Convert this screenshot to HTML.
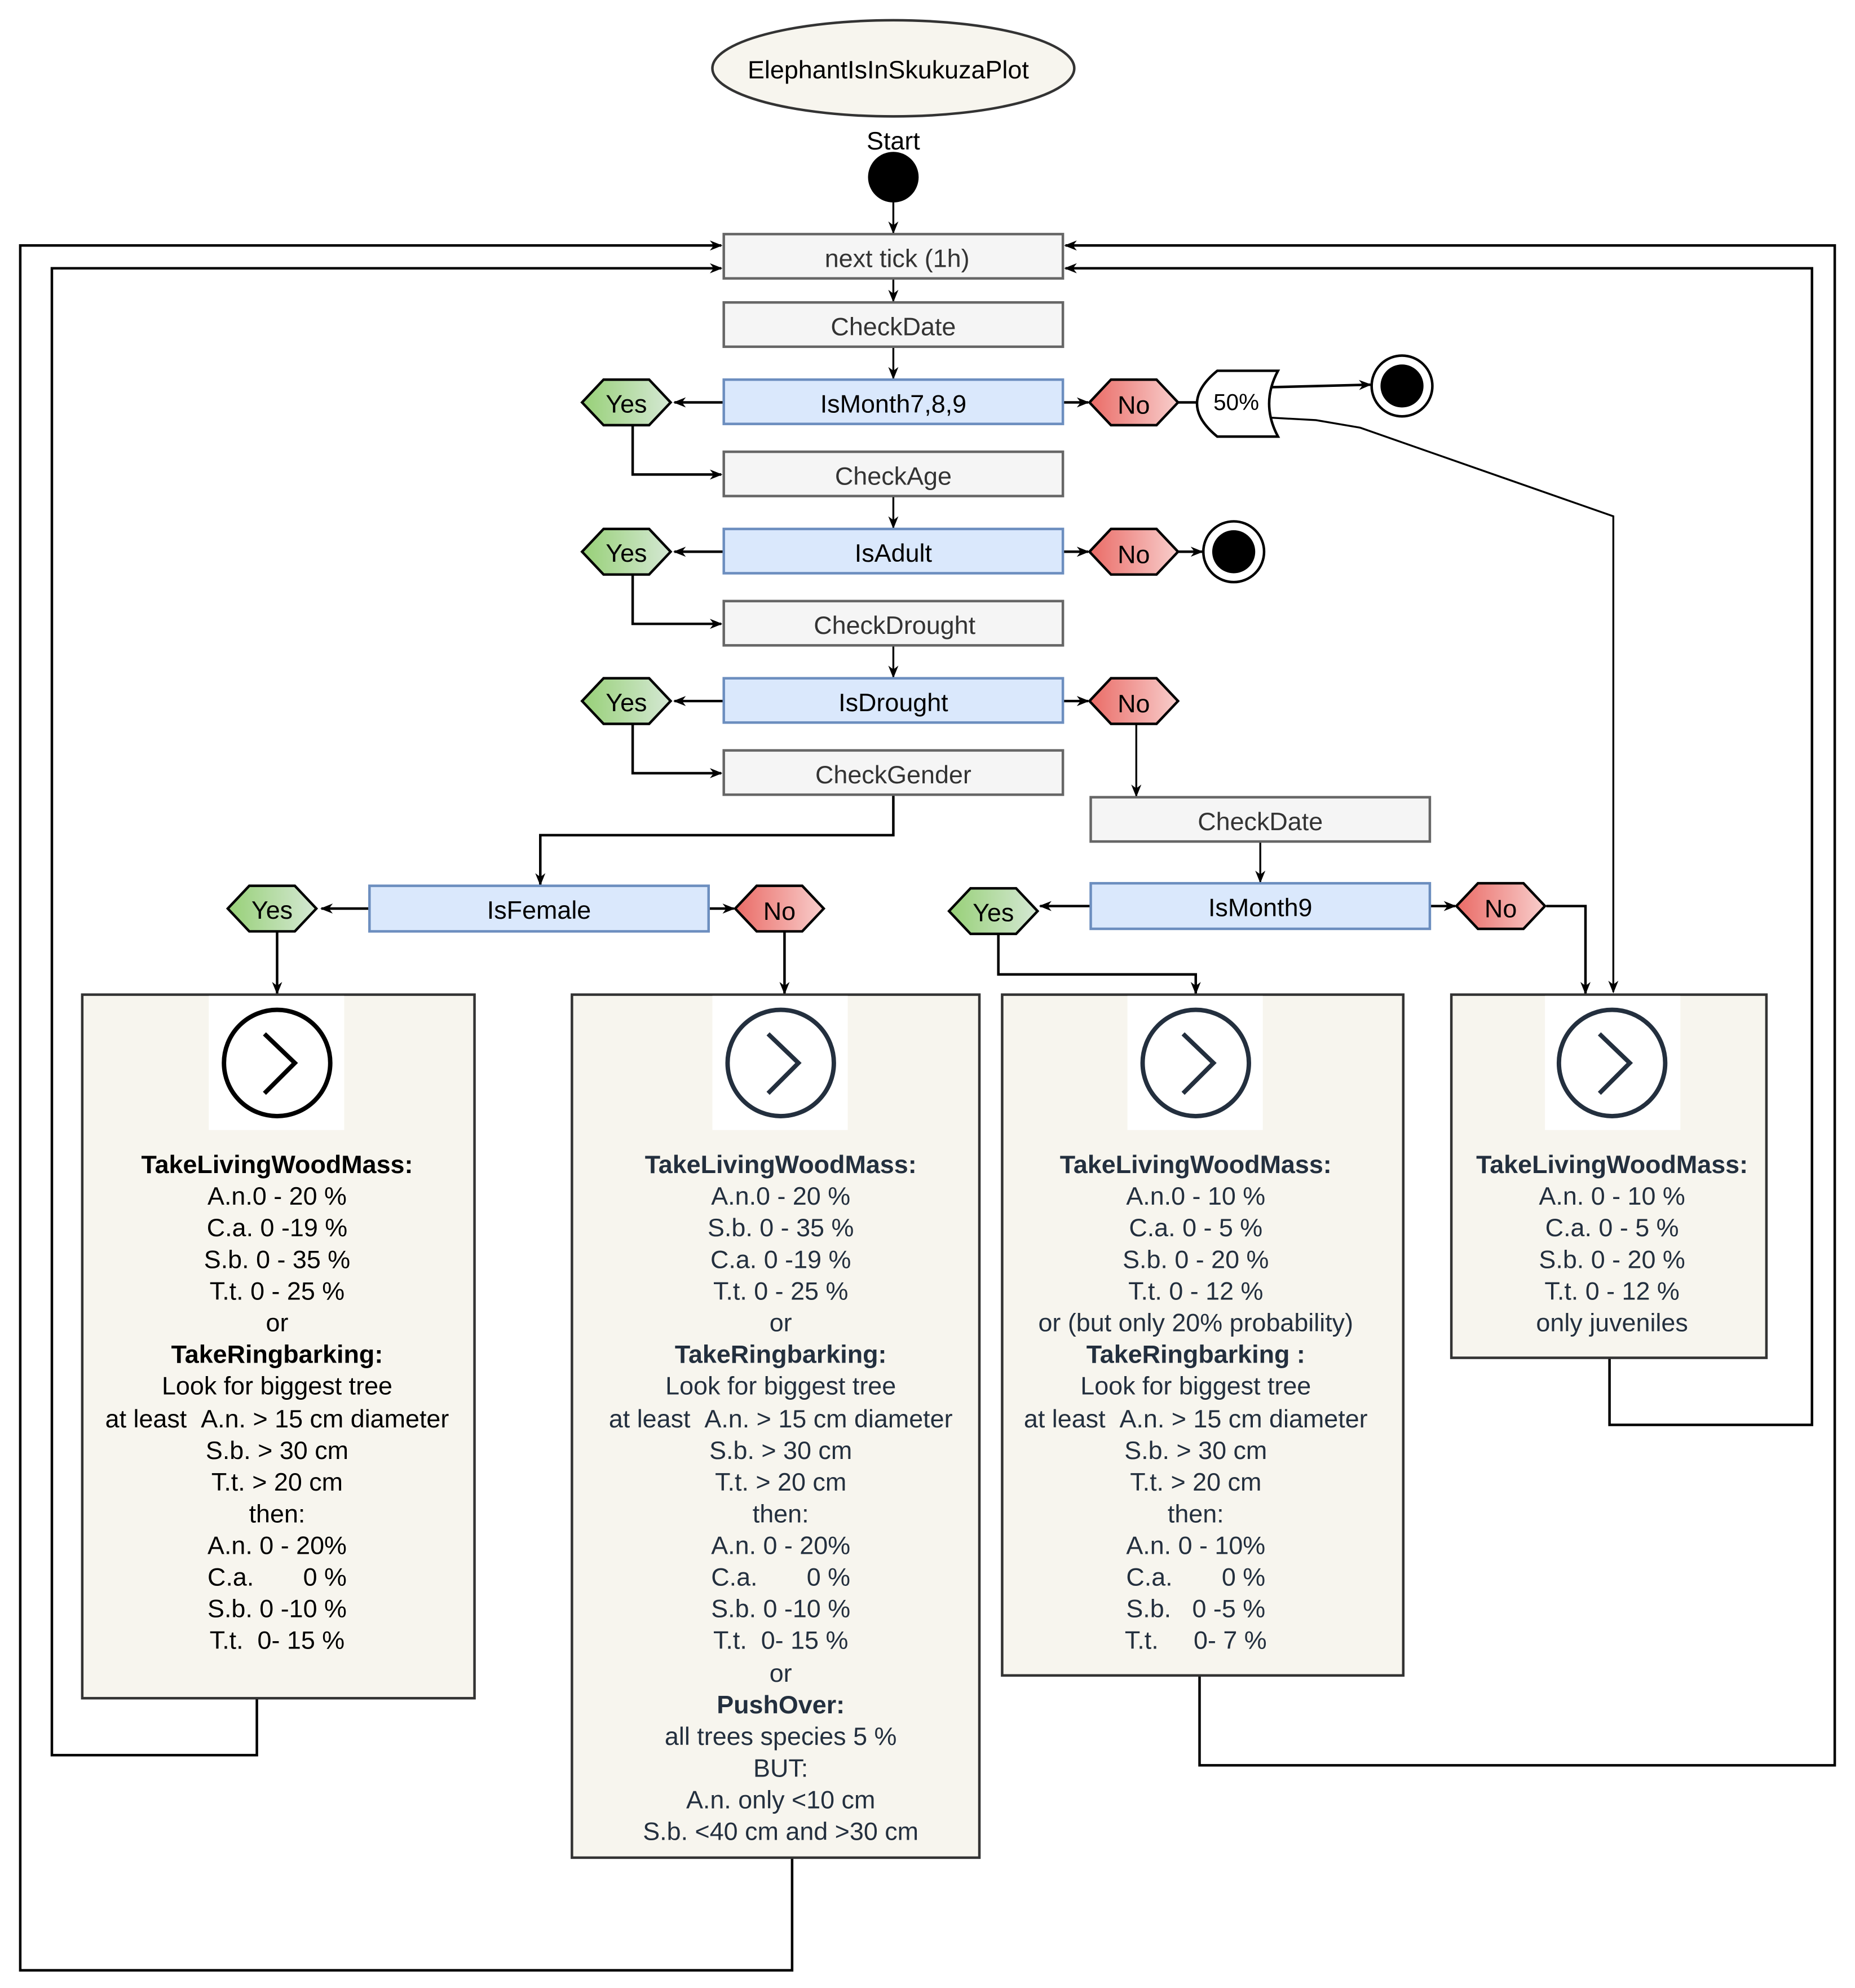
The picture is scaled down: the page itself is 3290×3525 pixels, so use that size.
<!DOCTYPE html>
<html><head><meta charset="utf-8"><style>
html,body{margin:0;padding:0;background:#fff;}
svg{display:block;}
text{font-family:"Liberation Sans",sans-serif;}
</style></head><body>
<svg width="3290" height="3525" viewBox="0 0 1466 1571" preserveAspectRatio="none" xmlns="http://www.w3.org/2000/svg">
<defs>
<marker id="a" markerWidth="10" markerHeight="10" refX="9" refY="5" orient="auto" markerUnits="userSpaceOnUse"><path d="M0,1 L10,5 L0,9 L3,5 Z" fill="#000"/></marker>
<linearGradient id="gy" x1="0" x2="1"><stop offset="0" stop-color="#97d077"/><stop offset="1" stop-color="#d5e8d4"/></linearGradient>
<linearGradient id="gn" x1="0" x2="1"><stop offset="0" stop-color="#ea6b66"/><stop offset="1" stop-color="#f8cecc"/></linearGradient>
</defs>
<g fill="none" stroke="#000" stroke-width="2">
<polyline points="626,1468 626,1557 16,1557 16,194 570,194" marker-end="url(#a)"/>
<polyline points="203,1342 203,1387 41,1387 41,212 570,212" marker-end="url(#a)"/>
<polyline points="948,1324 948,1395 1450,1395 1450,194 842,194" marker-end="url(#a)"/>
<polyline points="1272,1073 1272,1126 1432,1126 1432,212 842,212" marker-end="url(#a)"/>
<line x1="706" y1="160" x2="706" y2="184" stroke-width="1.5" marker-end="url(#a)"/>
<line x1="706" y1="220" x2="706" y2="238" stroke-width="1.5" marker-end="url(#a)"/>
<line x1="706" y1="274" x2="706" y2="299" stroke-width="1.5" marker-end="url(#a)"/>
<line x1="706" y1="392" x2="706" y2="417" stroke-width="1.5" marker-end="url(#a)"/>
<line x1="706" y1="510" x2="706" y2="535" stroke-width="1.5" marker-end="url(#a)"/>
<polyline points="572,318 533,318" marker-end="url(#a)"/>
<polyline points="572,436 533,436" marker-end="url(#a)"/>
<polyline points="572,554 533,554" marker-end="url(#a)"/>
<polyline points="840,318 860,318" marker-end="url(#a)"/>
<polyline points="840,436 860,436" marker-end="url(#a)"/>
<polyline points="840,554 860,554" marker-end="url(#a)"/>
<polyline points="500,336 500,375 570,375" marker-end="url(#a)"/>
<polyline points="500,454 500,493 570,493" marker-end="url(#a)"/>
<polyline points="500,572 500,611 570,611" marker-end="url(#a)"/>
<line x1="930" y1="318" x2="950" y2="318"/>
<polyline points="1003,306 1083,304" marker-end="url(#a)"/>
<polyline points="1003,330 1040,332 1075,338 1275,408 1275,784" stroke-width="1.5" marker-end="url(#a)"/>
<polyline points="930,436 950,436" marker-end="url(#a)"/>
<polyline points="898,572 898,629" stroke-width="1.5" marker-end="url(#a)"/>
<polyline points="706,628 706,660 427,660 427,699" marker-end="url(#a)"/>
<line x1="996" y1="665" x2="996" y2="697" stroke-width="1.5" marker-end="url(#a)"/>
<polyline points="292,718 254,718" marker-end="url(#a)"/>
<polyline points="560,718 580,718" marker-end="url(#a)"/>
<polyline points="862,716 822,716" marker-end="url(#a)"/>
<polyline points="1130,716 1150,716" marker-end="url(#a)"/>
<polyline points="219,736 219,785" marker-end="url(#a)"/>
<polyline points="620,736 620,785" marker-end="url(#a)"/>
<polyline points="789,738 789,770 945,770 945,785" marker-end="url(#a)"/>
<polyline points="1222,716 1253,716 1253,785" marker-end="url(#a)"/>
</g>
<ellipse cx="706" cy="54" rx="143" ry="38" fill="#f7f5ee" stroke="#333" stroke-width="2"/>
<text x="702" y="62" font-size="20" text-anchor="middle">ElephantIsInSkukuzaPlot</text>
<text x="706" y="118" font-size="20" text-anchor="middle">Start</text>
<circle cx="706" cy="140" r="20" fill="#000"/>
<g stroke-width="2" font-size="20" text-anchor="middle">
<rect x="572" y="185" width="268" height="35" fill="#f5f5f5" stroke="#666"/><text x="709" y="211" fill="#333" stroke="none">next tick (1h)</text>
<rect x="572" y="239" width="268" height="35" fill="#f5f5f5" stroke="#666"/><text x="706" y="265" fill="#333" stroke="none">CheckDate</text>
<rect x="572" y="300" width="268" height="35" fill="#dae8fc" stroke="#6c8ebf"/><text x="706" y="326" stroke="none">IsMonth7,8,9</text>
<rect x="572" y="357" width="268" height="35" fill="#f5f5f5" stroke="#666"/><text x="706" y="383" fill="#333" stroke="none">CheckAge</text>
<rect x="572" y="418" width="268" height="35" fill="#dae8fc" stroke="#6c8ebf"/><text x="706" y="444" stroke="none">IsAdult</text>
<rect x="572" y="475" width="268" height="35" fill="#f5f5f5" stroke="#666"/><text x="707" y="501" fill="#333" stroke="none">CheckDrought</text>
<rect x="572" y="536" width="268" height="35" fill="#dae8fc" stroke="#6c8ebf"/><text x="706" y="562" stroke="none">IsDrought</text>
<rect x="572" y="593" width="268" height="35" fill="#f5f5f5" stroke="#666"/><text x="706" y="619" fill="#333" stroke="none">CheckGender</text>
<rect x="862" y="630" width="268" height="35" fill="#f5f5f5" stroke="#666"/><text x="996" y="656" fill="#333" stroke="none">CheckDate</text>
<rect x="862" y="698" width="268" height="36" fill="#dae8fc" stroke="#6c8ebf"/><text x="996" y="724" stroke="none">IsMonth9</text>
<rect x="292" y="700" width="268" height="36" fill="#dae8fc" stroke="#6c8ebf"/><text x="426" y="726" stroke="none">IsFemale</text>
</g>
<g stroke="#000" stroke-width="2" font-size="20" text-anchor="middle">
<polygon points="460,318 477,300 513,300 530,318 513,336 477,336" fill="url(#gy)"/><text x="495" y="326" stroke="none">Yes</text>
<polygon points="460,436 477,418 513,418 530,436 513,454 477,454" fill="url(#gy)"/><text x="495" y="444" stroke="none">Yes</text>
<polygon points="460,554 477,536 513,536 530,554 513,572 477,572" fill="url(#gy)"/><text x="495" y="562" stroke="none">Yes</text>
<polygon points="180,718 197,700 233,700 250,718 233,736 197,736" fill="url(#gy)"/><text x="215" y="726" stroke="none">Yes</text>
<polygon points="750,720 767,702 803,702 820,720 803,738 767,738" fill="url(#gy)"/><text x="785" y="728" stroke="none">Yes</text>
<polygon points="861,318 878,300 914,300 931,318 914,336 878,336" fill="url(#gn)"/><text x="896" y="327" stroke="none">No</text>
<polygon points="861,436 878,418 914,418 931,436 914,454 878,454" fill="url(#gn)"/><text x="896" y="445" stroke="none">No</text>
<polygon points="861,554 878,536 914,536 931,554 914,572 878,572" fill="url(#gn)"/><text x="896" y="563" stroke="none">No</text>
<polygon points="581,718 598,700 634,700 651,718 634,736 598,736" fill="url(#gn)"/><text x="616" y="727" stroke="none">No</text>
<polygon points="1151,716 1168,698 1204,698 1221,716 1204,734 1168,734" fill="url(#gn)"/><text x="1186" y="725" stroke="none">No</text>
</g>
<path d="M962,293 L1010,293 Q996,319 1010,345 L962,345 Q930,319 962,293 Z" fill="#fff" stroke="#000" stroke-width="2"/>
<text x="977" y="324" font-size="18" text-anchor="middle">50%</text>
<circle cx="1108" cy="305" r="24" fill="#fff" stroke="#000" stroke-width="2"/><circle cx="1108" cy="305" r="17" fill="#000"/>
<circle cx="975" cy="436" r="24" fill="#fff" stroke="#000" stroke-width="2"/><circle cx="975" cy="436" r="17" fill="#000"/>
<g stroke="#333" stroke-width="2" fill="#f7f5ee">
<rect x="65" y="786" width="310" height="556"/>
<rect x="452" y="786" width="322" height="682"/>
<rect x="792" y="786" width="317" height="538"/>
<rect x="1147" y="786" width="249" height="287"/>
</g>
<g fill="#fff"><rect x="165" y="787" width="107" height="106"/><rect x="563" y="787" width="107" height="106"/><rect x="891" y="787" width="107" height="106"/><rect x="1221" y="787" width="107" height="106"/></g>
<g fill="none" stroke-width="3.5">
<circle cx="219" cy="840" r="42" stroke="#000"/><polyline points="209,817 233,840 209,864" stroke="#000"/>
<circle cx="617" cy="840" r="42" stroke="#232f3e"/><polyline points="607,817 631,840 607,864" stroke="#232f3e"/>
<circle cx="945" cy="840" r="42" stroke="#232f3e"/><polyline points="935,817 959,840 935,864" stroke="#232f3e"/>
<circle cx="1274" cy="840" r="42" stroke="#232f3e"/><polyline points="1264,817 1288,840 1264,864" stroke="#232f3e"/>
</g>
<g font-size="20" text-anchor="middle" fill="#000">
<text x="219" y="927" font-weight="bold">TakeLivingWoodMass:</text>
<text x="219" y="952">A.n.0 - 20 %</text>
<text x="219" y="977">C.a. 0 -19 %</text>
<text x="219" y="1002">S.b. 0 - 35 %</text>
<text x="219" y="1027">T.t. 0 - 25 %</text>
<text x="219" y="1052">or</text>
<text x="219" y="1077" font-weight="bold">TakeRingbarking:</text>
<text x="219" y="1102">Look for biggest tree</text>
<text x="219" y="1128">at least&#160;&#160;A.n. &gt; 15 cm diameter</text>
<text x="219" y="1153">S.b. &gt; 30 cm</text>
<text x="219" y="1178">T.t. &gt; 20 cm</text>
<text x="219" y="1203">then:</text>
<text x="219" y="1228">A.n. 0 - 20%</text>
<text x="219" y="1253">C.a.&#160;&#160;&#160;&#160;&#160;&#160;&#160;0 %</text>
<text x="219" y="1278">S.b. 0 -10 %</text>
<text x="219" y="1303">T.t.&#160;&#160;0- 15 %</text>
</g>
<g font-size="20" text-anchor="middle" fill="#232f3e">
<text x="617" y="927" font-weight="bold">TakeLivingWoodMass:</text>
<text x="617" y="952">A.n.0 - 20 %</text>
<text x="617" y="977">S.b. 0 - 35 %</text>
<text x="617" y="1002">C.a. 0 -19 %</text>
<text x="617" y="1027">T.t. 0 - 25 %</text>
<text x="617" y="1052">or</text>
<text x="617" y="1077" font-weight="bold">TakeRingbarking:</text>
<text x="617" y="1102">Look for biggest tree</text>
<text x="617" y="1128">at least&#160;&#160;A.n. &gt; 15 cm diameter</text>
<text x="617" y="1153">S.b. &gt; 30 cm</text>
<text x="617" y="1178">T.t. &gt; 20 cm</text>
<text x="617" y="1203">then:</text>
<text x="617" y="1228">A.n. 0 - 20%</text>
<text x="617" y="1253">C.a.&#160;&#160;&#160;&#160;&#160;&#160;&#160;0 %</text>
<text x="617" y="1278">S.b. 0 -10 %</text>
<text x="617" y="1303">T.t.&#160;&#160;0- 15 %</text>
<text x="617" y="1329">or</text>
<text x="617" y="1354" font-weight="bold">PushOver:</text>
<text x="617" y="1379">all trees species 5 %</text>
<text x="617" y="1404">BUT:</text>
<text x="617" y="1429">A.n. only &lt;10 cm</text>
<text x="617" y="1454">S.b. &lt;40 cm and &gt;30 cm</text>
<text x="945" y="927" font-weight="bold">TakeLivingWoodMass:</text>
<text x="945" y="952">A.n.0 - 10 %</text>
<text x="945" y="977">C.a. 0 - 5 %</text>
<text x="945" y="1002">S.b. 0 - 20 %</text>
<text x="945" y="1027">T.t. 0 - 12 %</text>
<text x="945" y="1052">or (but only 20% probability)</text>
<text x="945" y="1077" font-weight="bold">TakeRingbarking :</text>
<text x="945" y="1102">Look for biggest tree</text>
<text x="945" y="1128">at least&#160;&#160;A.n. &gt; 15 cm diameter</text>
<text x="945" y="1153">S.b. &gt; 30 cm</text>
<text x="945" y="1178">T.t. &gt; 20 cm</text>
<text x="945" y="1203">then:</text>
<text x="945" y="1228">A.n. 0 - 10%</text>
<text x="945" y="1253">C.a.&#160;&#160;&#160;&#160;&#160;&#160;&#160;0 %</text>
<text x="945" y="1278">S.b.&#160;&#160;&#160;0 -5 %</text>
<text x="945" y="1303">T.t.&#160;&#160;&#160;&#160;&#160;0- 7 %</text>
<text x="1274" y="927" font-weight="bold">TakeLivingWoodMass:</text>
<text x="1274" y="952">A.n. 0 - 10 %</text>
<text x="1274" y="977">C.a. 0 - 5 %</text>
<text x="1274" y="1002">S.b. 0 - 20 %</text>
<text x="1274" y="1027">T.t. 0 - 12 %</text>
<text x="1274" y="1052">only juveniles</text>
</g>
</svg>
</body></html>
